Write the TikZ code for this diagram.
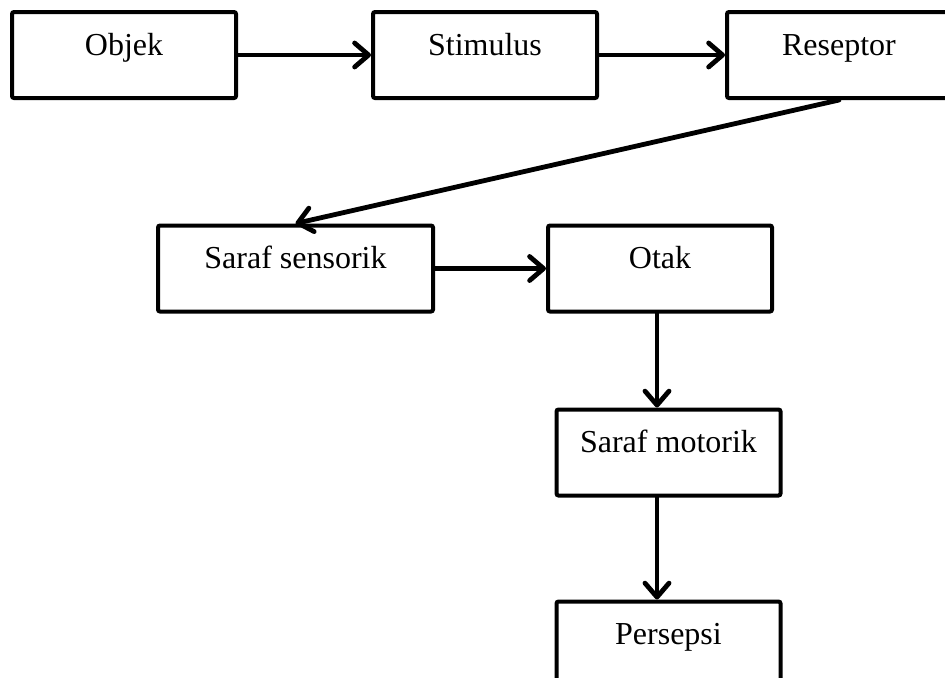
\documentclass[tikz,border=0pt]{standalone}
\usepackage{fontspec}
\setmainfont{Liberation Serif}
\usepackage{tikz}
\usetikzlibrary{arrows.meta, positioning}

\begin{document}
\begin{tikzpicture}[node distance=60pt,
  box/.style={draw, line width=2pt, rounded corners=1pt, minimum width=112pt, minimum height=43pt,
    text height=11pt, text depth=11pt, inner sep=0pt, font=\fontsize{16}{19}\selectfont},
  arr/.style={line width=2.4pt, line cap=round, -{Straight Barb[length=7pt, width=12pt, round]}}]
\useasboundingbox (0,0) rectangle (472.5pt,-338.5pt);
\clip (0,0) rectangle (472.5pt,-338.5pt);
% Nodes
\node[box] (objek) at (62pt,-27.5pt) {Objek};
\node[box, right=66.5pt of objek] (stimulus) {Stimulus};
\node[box, right=63pt of stimulus] (reseptor) {Reseptor};

\node[box, minimum width=137.5pt] (sensorik) at (147.75pt,-134.25pt) {Saraf sensorik};
\node[box, right=55.5pt of sensorik] (otak) {Otak};

\node[box] (motorik) at (334.25pt,-226.25pt) {Saraf motorik};
\node[box, below=51pt of motorik] (persepsi) {Persepsi};

% Arrows
\draw[arr] (objek) -- (stimulus);
\draw[arr] (stimulus) -- (reseptor);
\draw[arr] (reseptor.south) -- (sensorik.north);
\draw[arr] (sensorik) -- (otak);
\draw[arr] ([xshift=-1.5pt]otak.south) -- ([xshift=-1.5pt]otak.south |- motorik.north);
\draw[arr] ([xshift=-1.5pt]otak.south |- motorik.south) -- ([xshift=-1.5pt]otak.south |- persepsi.north);

\end{tikzpicture}
\end{document}
